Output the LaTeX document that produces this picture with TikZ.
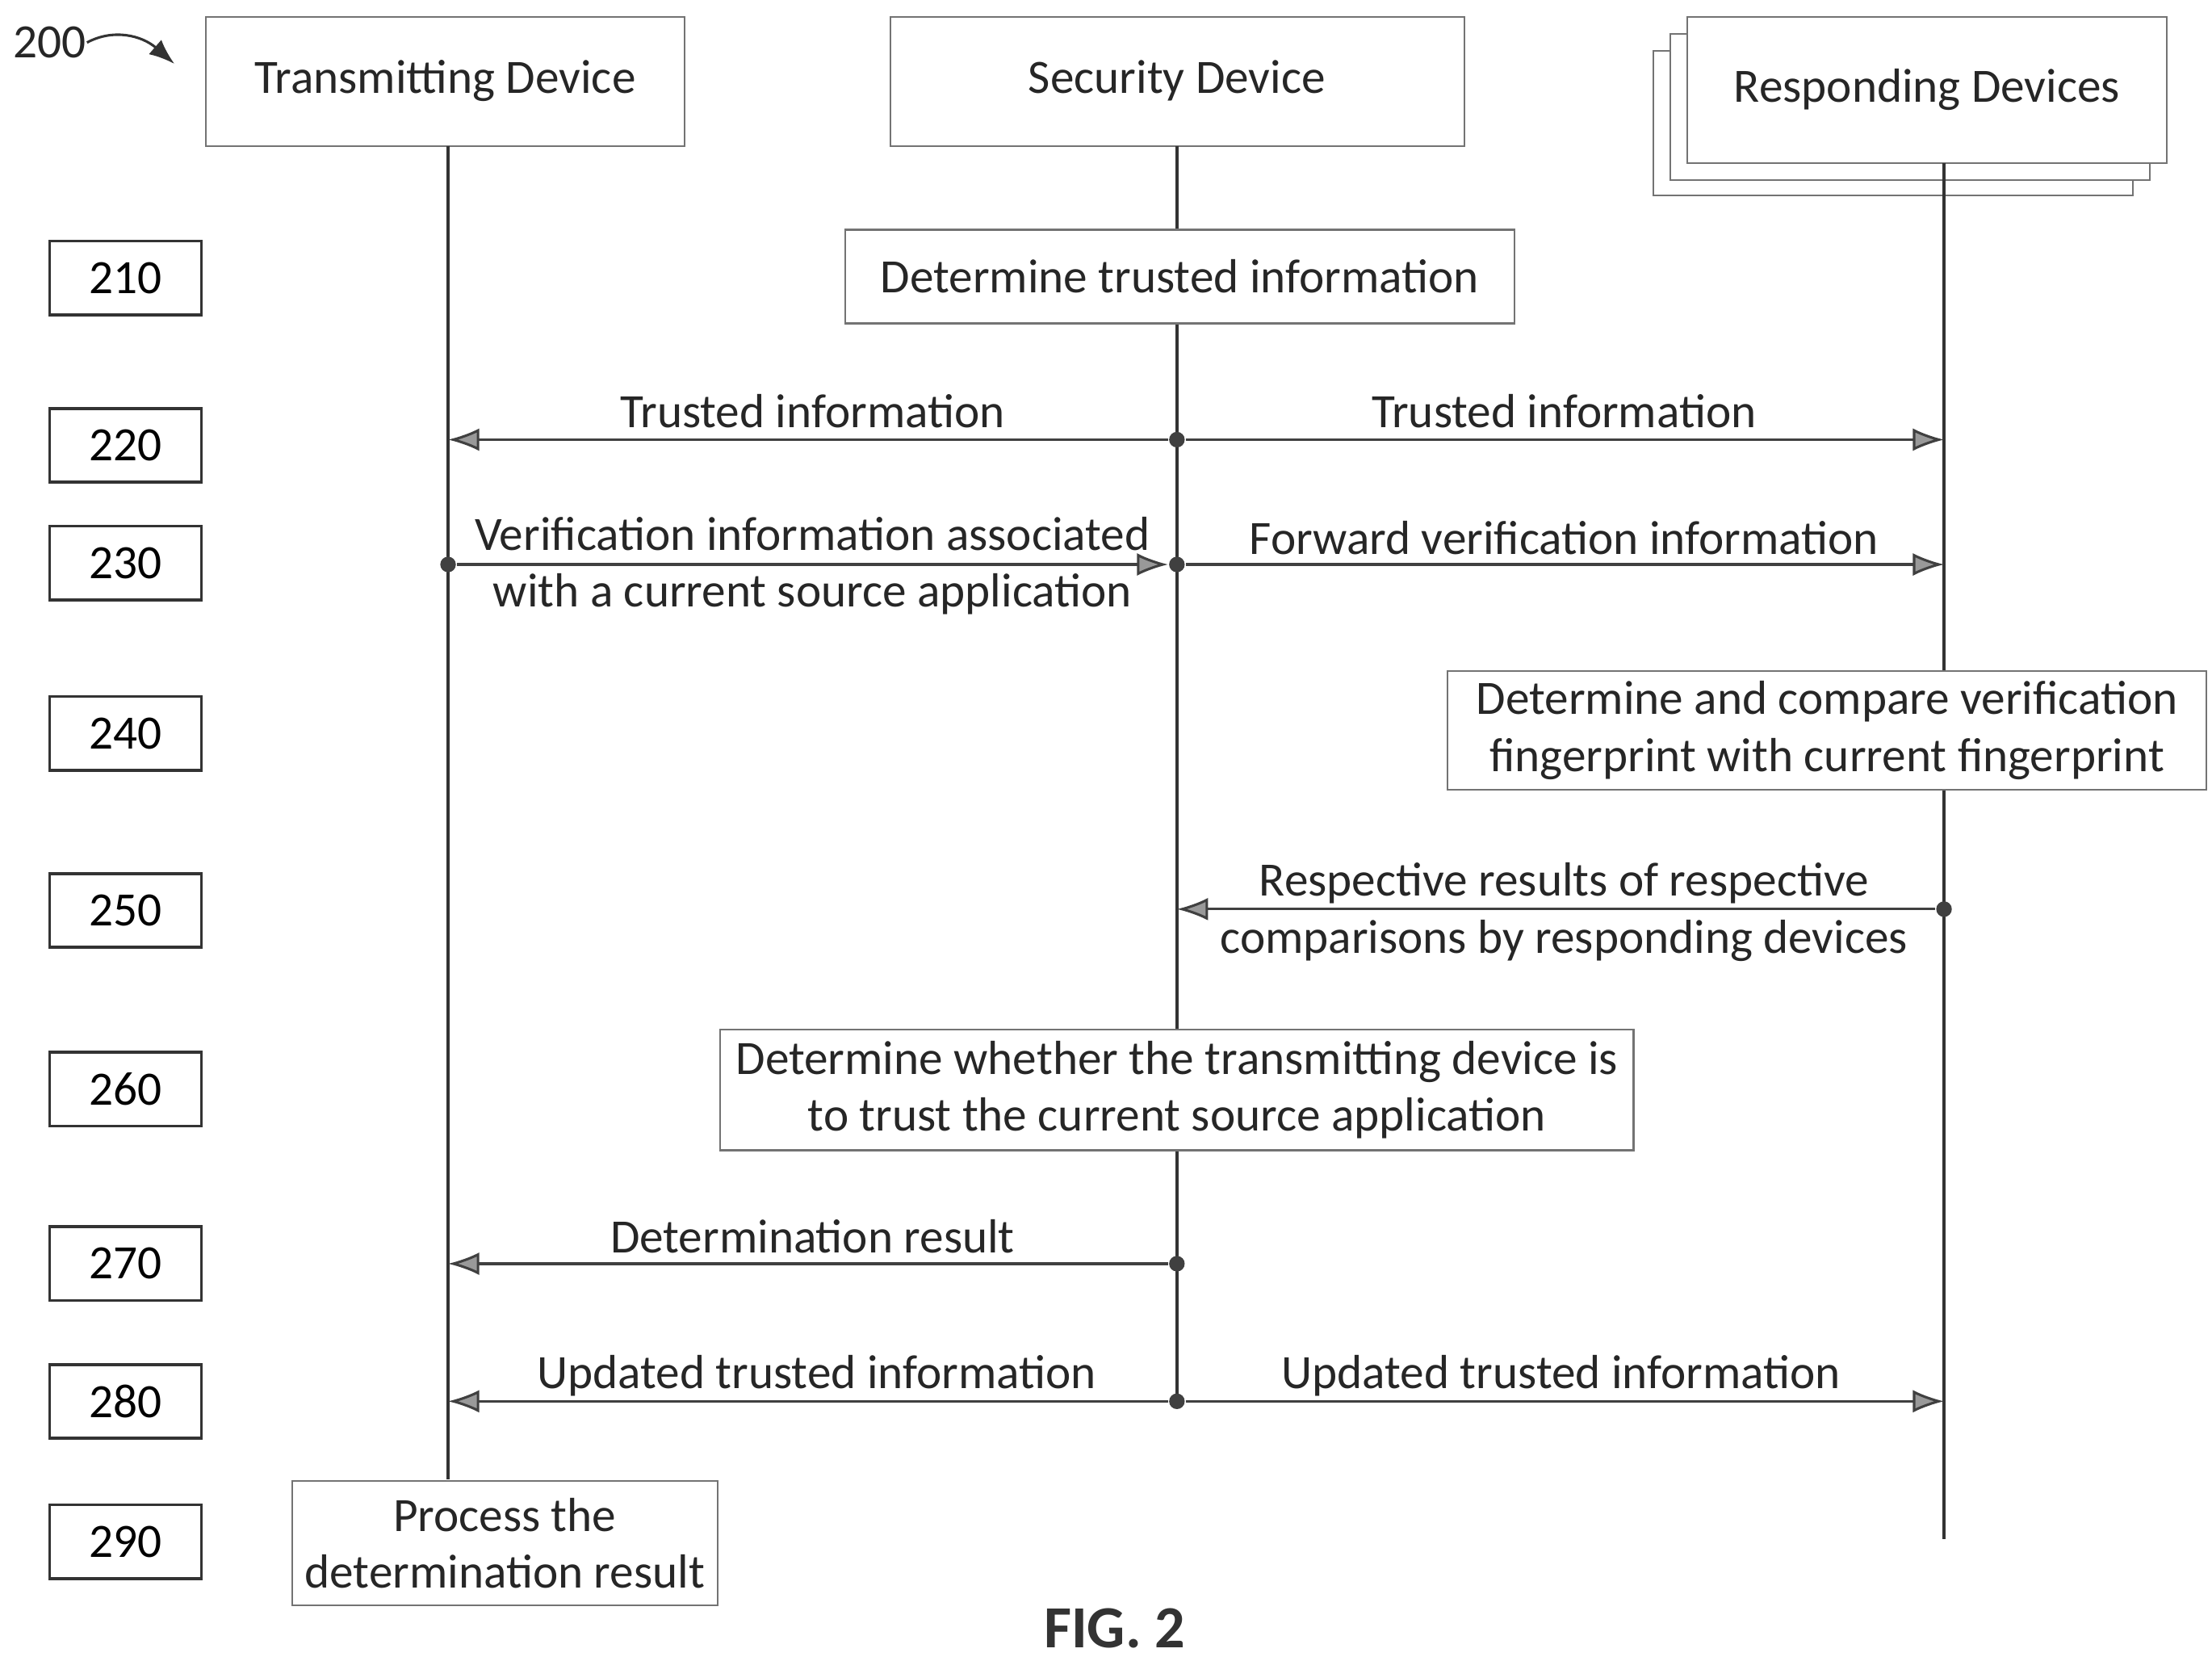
\documentclass[tikz,border=0pt]{standalone}
\usepackage{fontspec}
\setmainfont{Carlito}
\usetikzlibrary{arrows.meta}
\begin{document}
\begin{tikzpicture}[x=1mm,y=-1mm,
  txt/.style={font=\fontsize{9.6}{11.4}\selectfont,text=black!85,align=center,inner sep=0pt},
  bx/.style={draw=black!55,line width=0.35pt},
  stepbox/.style={draw=black!80,line width=0.6pt,minimum width=10.7mm,minimum height=5.2mm,font=\fontsize{9.6}{11.4}\selectfont,inner sep=0pt},
  life/.style={draw=black!80,line width=0.6pt},
  msg/.style={draw=black!75,line width=0.5pt,-{Latex[length=2.2mm,width=1.6mm,fill=black!40]}},
  dot/.style={circle,fill=black!75,inner sep=0pt,minimum size=1.1mm}]
\useasboundingbox (0,0) rectangle (156,116.8);
% headers
\node[txt] (n200) at (3.5,3) {200};
\coordinate (a200) at (12.3,4.5);
\draw[black!80,line width=0.5pt,-{Latex[length=1.8mm]}] (n200.east) .. controls (8,2) and (10,2.5) .. (a200);
\draw[bx] (14.5,1.2) rectangle (48.3,10.3);
\node[txt] (td) at (31.4,5.7) {Transmitting Device};
\draw[bx] (62.8,1.2) rectangle (103.3,10.3);
\node[txt] (sd) at (83,5.7) {Security Device};
\draw[bx,fill=white] (116.6,3.6) rectangle (150.4,13.8);
\draw[bx,fill=white] (117.8,2.4) rectangle (151.6,12.7);
\draw[bx,fill=white] (119,1.2) rectangle (152.8,11.5);
\node[txt] (rd) at (135.9,6.3) {Responding Devices};
% lifelines
\coordinate (t0) at (31.6,10.3); \coordinate (t1) at (31.6,104.3);
\coordinate (s0) at (83,10.3); \coordinate (s1) at (83,99);
\coordinate (r0) at (137.1,11.5); \coordinate (r1) at (137.1,108.5);
\draw[life] (t0)--(t1); \draw[life] (s0)--(s1); \draw[life] (r0)--(r1);
% steps
\foreach \n/\y in {210/19.6,220/31.4,230/39.7,240/51.7,250/64.2,260/76.8,270/89.1,280/98.8,290/108.7}
  \node[stepbox] (st\n) at (8.85,\y) {\n};
% boxes
\node[txt,bx,fill=white,minimum width=47.2mm,minimum height=6.6mm] (b210) at (83.2,19.5) {Determine trusted information};
\node[txt,bx,fill=white,minimum width=53.5mm,minimum height=8.4mm] (b240) at (128.85,51.5) {Determine and compare verification\\fingerprint with current fingerprint};
\node[txt,bx,fill=white,minimum width=64.4mm,minimum height=8.5mm] (b260) at (83,76.85) {Determine whether the transmitting device is\\to trust the current source application};
\node[txt,bx,fill=white,minimum width=30mm,minimum height=8.8mm] (b290) at (35.6,108.8) {Process the\\determination result};
% 220
\coordinate (t220) at (31.6,31); \node[dot] (s220) at (83,31) {}; \coordinate (r220) at (137.1,31);
\draw[msg] (s220)--(t220); \draw[msg] (s220)--(r220);
\node[txt] (l220a) at (57.3,29) {Trusted information};
\node[txt] (l220b) at (110.3,29) {Trusted information};
% 230
\node[dot] (t230) at (31.6,39.8) {}; \node[dot] (s230) at (83,39.8) {}; \coordinate (r230) at (137.1,39.8);
\draw[msg] (t230)--(s230); \draw[msg] (s230)--(r230);
\node[txt] (l230a) at (57.3,39.9) {Verification information associated\\with a current source application};
\node[txt] (l230b) at (110.3,37.9) {Forward verification information};
% 250
\node[dot] (r250) at (137.1,64.1) {}; \coordinate (s250) at (83,64.1);
\draw[msg] (r250)--(s250);
\node[txt] (l250) at (110.3,64.3) {Respective results of respective\\comparisons by responding devices};
% 270
\node[dot] (s270) at (83,89.1) {}; \coordinate (t270) at (31.6,89.1);
\draw[msg] (s270)--(t270);
\node[txt] (l270) at (57.3,87.2) {Determination result};
% 280
\node[dot] (s280) at (83,98.8) {}; \coordinate (t280) at (31.6,98.8); \coordinate (r280) at (137.1,98.8);
\draw[msg] (s280)--(t280); \draw[msg] (s280)--(r280);
\node[txt] (l280a) at (57.6,97) {Updated trusted information};
\node[txt] (l280b) at (110.1,97) {Updated trusted information};
% fig
\node[font=\bfseries\fontsize{12}{14}\selectfont,text=black!80] (fig) at (78.6,114.8) {FIG. 2};
\end{tikzpicture}
\end{document}
